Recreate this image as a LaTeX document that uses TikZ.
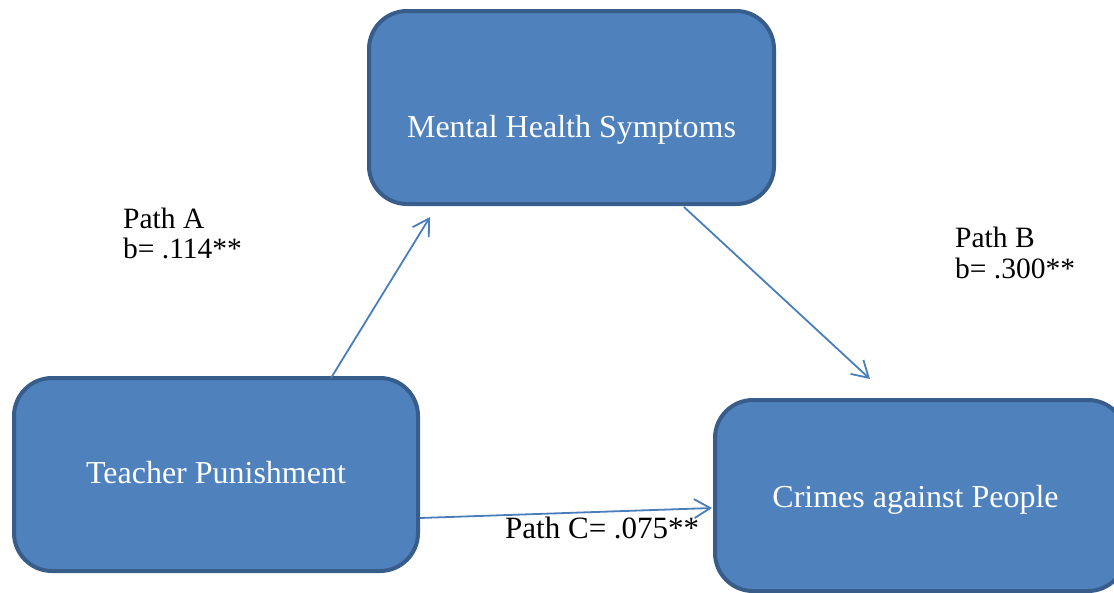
\documentclass[tikz,border=0pt]{standalone}
\usepackage{fontspec}
\setmainfont{Liberation Serif}
\usetikzlibrary{arrows.meta,calc}
\definecolor{boxfill}{RGB}{79,129,189}
\definecolor{boxline}{RGB}{56,93,138}
\definecolor{arrowcol}{RGB}{74,126,187}
\begin{document}
\begin{tikzpicture}[x=1pt,y=-1pt,
  varbox/.style={draw=boxline, fill=boxfill, line width=4pt, rounded corners=38pt, inner sep=0pt},
  boxlbl/.style={text=white, font=\fontsize{32}{38}\selectfont, inner sep=0pt, anchor=base},
  pathlbl/.style={text=black, font=\fontsize{29.5}{35}\selectfont, inner sep=0pt, anchor=base west},
  conn/.style={draw=arrowcol, line width=1.8pt, -{Straight Barb[length=16pt,width=19pt,line width=1.8pt]}}
]
\useasboundingbox (0,0) rectangle (1114,592);
% boxes
\node[varbox, minimum width=405pt, minimum height=193pt] (mh) at (571.5,107.5) {};
\node[varbox, minimum width=404pt, minimum height=193pt] (tp) at (216,474.5) {};
\node[varbox, minimum width=411pt, minimum height=191pt] (cp) at (920.5,495.5) {};
\node[boxlbl] (mhT) at ($(mh.center)+(0,29.5)$) {Mental Health Symptoms};
\node[boxlbl] (tpT) at ($(tp.center)+(0,8.5)$) {Teacher Punishment};
\node[boxlbl] (cpT) at ($(cp.center)+(-5,11.5)$) {Crimes against People};
% connector end points
\coordinate (aS) at (331,378);
\coordinate (aE) at (430,217);
\coordinate (bS) at (684,207);
\coordinate (bE) at (870,379);
\coordinate (cS) at (420,518);
\coordinate (cE) at (712,508);
\draw[conn] (aS) -- (aE);
\draw[conn] (bS) -- (bE);
\draw[conn] (cS) -- (cE);
% labels
\node[pathlbl] (pa1) at (123,228) {Path A};
\node[pathlbl] (pa2) at (123,258) {b= .114**};
\node[pathlbl] (pb1) at (955,247) {Path B};
\node[pathlbl] (pb2) at (955,278) {b= .300**};
\node[pathlbl, font=\fontsize{31}{36}\selectfont] (pc) at (505,538) {Path C= .075**};
\end{tikzpicture}
\end{document}
